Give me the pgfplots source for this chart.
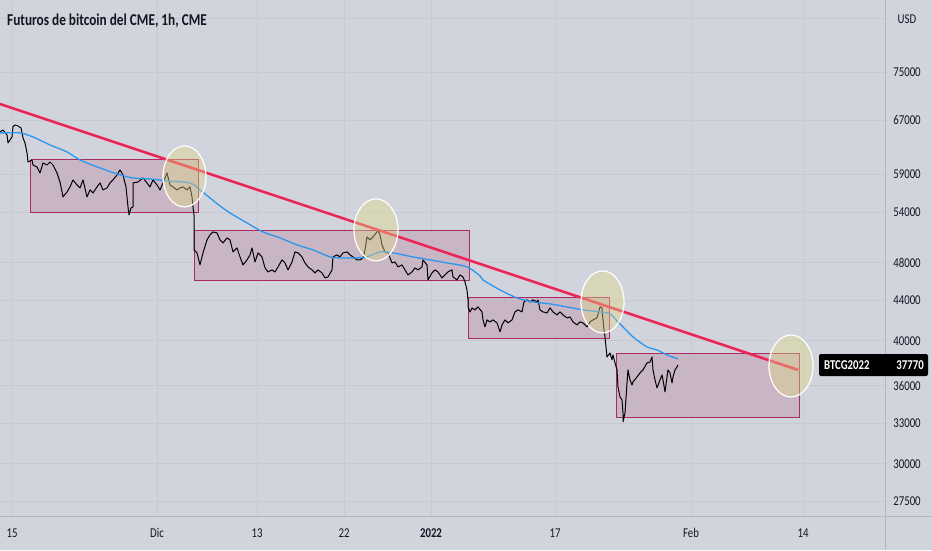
\documentclass[border=0pt]{standalone}
\usepackage{fontspec}
\setmainfont{Carlito}[FakeStretch=0.8]
\usepackage{pgfplots}
\usepackage{pgfplotstable}
\pgfplotsset{compat=1.18}
\definecolor{bg}{RGB}{209,212,220}
\definecolor{gridc}{RGB}{199,202,211}
\definecolor{sepc}{RGB}{180,183,192}
\definecolor{rectfill}{RGB}{200,182,197}
\definecolor{rectdraw}{RGB}{172,42,100}
\definecolor{trend}{RGB}{236,38,88}
\definecolor{ma}{RGB}{41,150,240}
\definecolor{ellfill}{RGB}{227,217,130}
\definecolor{txt}{RGB}{19,23,34}
\newcommand\tickfont{\fontsize{13.5}{14}\selectfont}
\newcommand\titlefont{\fontsize{16.6}{18}\selectfont\bfseries}

\pgfplotstableread{
x y
0 65182
3 65489
7 64727
8 63526
10 63976
12 64425
13 65949
15 66258
18 66104
21 65796
23 64275
25 63526
27 62059
28 60766
32 61054
33 60341
37 60060
40 59223
43 60624
47 60341
50 60766
53 60341
57 59223
60 57990
63 55991
67 56649
70 57317
73 58264
77 57585
80 57183
83 58264
87 55991
90 56917
93 56517
97 57317
100 57855
103 56917
107 57183
110 57855
113 58264
117 58947
120 59642
123 58947
126 57317
128 54697
129 53684
131 54570
133 54697
133 56517
133 57855
138 57990
143 58536
147 57855
150 57317
153 58264
157 57585
160 56917
163 57855
167 59223
170 57585
173 57317
177 56917
180 57183
183 57317
187 56917
190 57317
192 55991
193 54697
194 53684
194 49466
197 49119
200 47761
203 49119
207 50637
210 51231
213 51591
217 51471
220 50637
223 50280
227 50874
230 50637
233 49234
237 49697
240 48663
243 47761
247 48323
250 48890
252 49697
255 48096
258 49119
262 48663
265 47428
268 46984
272 47207
275 46984
278 47538
282 48323
285 47984
288 47207
292 48096
295 49234
298 49119
302 48663
305 47984
308 47538
312 47207
315 46874
318 47207
322 46874
325 46330
328 46438
332 47207
333 48663
337 48890
340 48663
343 49119
347 49234
350 48890
353 48663
357 48323
360 48323
363 48549
365 49466
367 50992
370 50637
373 50992
377 51591
378 51835
380 51231
382 50046
385 49234
388 49119
392 47984
395 48096
398 47538
402 47761
405 47207
408 46655
412 46984
415 47428
418 47207
422 47538
423 48323
427 47761
428 46114
432 46874
435 47207
438 46984
442 46330
445 46655
448 46984
452 47207
453 46438
457 46114
460 46655
463 46438
465 45898
467 45048
468 44008
468 43292
470 42789
472 43192
475 42991
478 43292
482 42789
483 41998
485 41315
487 41998
490 41800
493 41998
497 41702
500 40834
502 41508
505 41998
508 41702
512 41998
515 42789
518 42991
522 42789
524 43801
527 44008
530 43801
533 44008
537 43801
538 44008
540 42991
543 42789
547 42689
550 43192
553 42789
557 42490
560 42789
563 42490
567 42194
570 42292
573 41800
577 41508
580 41800
583 41702
587 41315
590 41800
593 41998
597 42194
600 43292
602 43192
603 41998
604 41027
605 40360
606 39427
607 38516
610 38877
612 38247
613 38696
615 37978
617 37363
618 35906
620 35076
622 34831
623 33788
623 33084
625 33788
627 36243
628 37363
630 36499
632 36074
633 36328
637 36755
640 37100
643 37363
647 37978
650 38067
652 38516
653 37363
655 36499
657 35822
660 36499
662 36927
663 36499
665 35488
667 36755
668 37363
670 37100
672 36243
673 36755
675 37363
677 37625
678 37801
}\price

\pgfplotstableread{
x y
0 65030
20 65030
33 64425
50 63230
67 62204
80 61054
100 59920
117 59085
133 58536
150 58400
167 58128
190 57855
200 56917
210 55861
220 54825
230 53935
247 52688
263 51591
280 50874
297 50046
313 49466
330 48663
340 48549
357 48549
367 48663
380 49234
393 49119
413 48663
430 48323
447 47984
467 47538
480 46547
483 46114
500 45048
517 44214
533 43801
550 43597
567 43292
583 42991
600 42789
610 42590
617 41900
623 41315
633 40360
647 39427
657 39152
667 38696
678 38337
}\ma

\begin{document}
\begin{tikzpicture}
\fill[bg] (0pt,0pt) rectangle (932pt,-550pt);
\begin{axis}[
  at={(0pt,0pt)}, anchor=north west,
  scale only axis, width=885pt, height=516pt,
  xmin=0, xmax=885,
  ymode=log, ymin=26552, ymax=88753,
  axis line style={draw=none},
  major tick length=0pt, tick style={draw=none},
  grid=major, grid style={draw=gridc, line width=0.8pt},
  xtick={12,157,257,344,431,555,691,803},
  xticklabels={15,Dic,13,22,{\bfseries 2022},17,Feb,14},
  ytick={85000,75000,67000,59000,54000,48000,44000,40000,36000,33000,30000,27500},
  yticklabels={,75000,67000,59000,54000,48000,44000,40000,36000,33000,30000,27500},
  yticklabel pos=right,
  yticklabel style={anchor=center, xshift=22pt, font=\tickfont, text=txt},
  xticklabel style={anchor=center, yshift=-17pt, font=\tickfont, text=txt},
]
% rectangles
\addplot[fill=rectfill, draw=rectdraw, line width=1pt] coordinates {(31,61054) (198,61054) (198,53935) (31,53935) (31,61054)};
\addplot[fill=rectfill, draw=rectdraw, line width=1pt] coordinates {(194,51714) (469,51714) (469,46007) (194,46007) (194,51714)};
\addplot[fill=rectfill, draw=rectdraw, line width=1pt] coordinates {(468,44214) (609,44214) (609,40172) (468,40172) (468,44214)};
\addplot[fill=rectfill, draw=rectdraw, line width=1pt] coordinates {(616,38787) (799,38787) (799,33395) (616,33395) (616,38787)};
% price
\addplot[black, line width=1pt, line join=round] table[x=x, y=y] {\price};
% moving average
\addplot[ma, line width=1.3pt, smooth] table[x=x, y=y] {\ma};
% trend line
\addplot[trend, line width=2.6pt] coordinates {(0,69593) (798,37363)};
% ellipses
\draw[draw=white, line width=1.2pt, fill=ellfill, fill opacity=0.4] (axis cs:184.5,58740) ellipse [x radius=21.5pt, y radius=30.5pt];
\draw[draw=white, line width=1.2pt, fill=ellfill, fill opacity=0.4] (axis cs:376,51835) ellipse [x radius=22pt, y radius=31pt];
\draw[draw=white, line width=1.2pt, fill=ellfill, fill opacity=0.4] (axis cs:602.5,43801) ellipse [x radius=21.5pt, y radius=31pt];
\draw[draw=white, line width=1.2pt, fill=ellfill, fill opacity=0.4] (axis cs:791,37713) ellipse [x radius=22pt, y radius=31pt];
\end{axis}
\draw[sepc, line width=1pt] (885pt,0pt) -- (885pt,-550pt);
\draw[sepc, line width=1pt] (0pt,-516pt) -- (932pt,-516pt);
\node[fill=black, rounded corners=2pt, minimum width=109pt, minimum height=22pt, inner sep=0pt] at (873.5pt,-365pt) {};
\node[anchor=west, inner sep=0pt, text=white, font=\tickfont\bfseries] at (824pt,-365pt) {BTCG2022};
\node[anchor=east, inner sep=0pt, text=white, font=\tickfont\bfseries] at (924pt,-365pt) {37770};
\node[anchor=base west, inner sep=0pt, text=txt, font=\titlefont] at (7pt,-25pt) {Futuros de bitcoin del CME, 1h, CME};
\node[anchor=base, inner sep=0pt, text=txt, font=\tickfont] at (907pt,-23pt) {USD};
\pgfresetboundingbox
\useasboundingbox (0pt,0pt) rectangle (932pt,-550pt);
\end{tikzpicture}
\end{document}
